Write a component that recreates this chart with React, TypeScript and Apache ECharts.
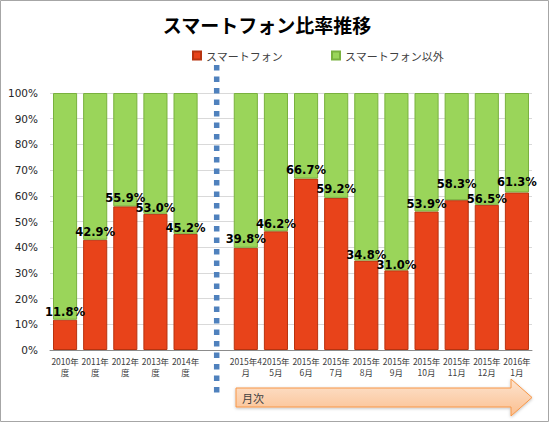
import React, { useEffect, useRef } from "react";
import * as echarts from "echarts";

const categories = [
  "2010年\n度", "2011年\n度", "2012年\n度", "2013年\n度", "2014年\n度", "",
  "2015年4\n月", "2015年\n5月", "2015年\n6月", "2015年\n7月", "2015年\n8月",
  "2015年\n9月", "2015年\n10月", "2015年\n11月", "2015年\n12月", "2016年\n1月",
];
const smartphoneShare: (number | string)[] = [
  11.8, 42.9, 55.9, 53.0, 45.2, "-",
  39.8, 46.2, 66.7, 59.2, 34.8, 31.0, 53.9, 58.3, 56.5, 61.3,
];
const otherShare: (number | string)[] = smartphoneShare.map((v) =>
  typeof v === "number" ? +(100 - v).toFixed(1) : "-"
);
const yTicks = [0, 10, 20, 30, 40, 50, 60, 70, 80, 90, 100];
const gapIndex = 5;
// extra upward nudge (px) of individual data labels, as placed in the original
const labelRaise = [0, 0, 1, -2, -2, 0, 1, 0, 1, 1, -2, -2, 0, 8, -2, 3];

const JP = '"Noto Sans CJK JP", "DejaVu Sans", sans-serif';
const NUM = '"DejaVu Sans", "Noto Sans CJK JP", sans-serif';

export default function App() {
  const ref = useRef<HTMLDivElement>(null);
  useEffect(() => {
    if (!ref.current) return;
    const chart = echarts.init(ref.current, null, { renderer: "svg" });
    chart.setOption({
      animation: false,
      backgroundColor: "#ffffff",
      title: {
        text: "スマートフォン比率推移",
        left: 262,
        textAlign: "center",
        top: 10,
        textStyle: { fontFamily: JP, fontSize: 19, fontWeight: "bold", color: "#000" },
      },
      legend: {
        top: 45,
        left: 187,
        itemWidth: 8,
        itemHeight: 8,
        itemGap: 48,
        icon: "rect",
        textStyle: { fontFamily: JP, fontSize: 11, color: "#404040" },
        data: ["スマートフォン", "スマートフォン以外"],
      },
      grid: { left: 50, right: 18, top: 93, bottom: 74, containLabel: false },
      xAxis: {
        type: "category",
        data: categories,
        axisLine: { lineStyle: { color: "#8c8c8c" } },
        axisTick: { show: false },
        axisLabel: {
          interval: 0,
          fontFamily: JP,
          fontSize: 8.5,
          lineHeight: 11,
          color: "#404040",
          margin: 5,
        },
      },
      yAxis: {
        type: "value",
        min: 0,
        max: 100,
        interval: 10,
        axisLine: { show: false },
        axisTick: { show: false },
        splitLine: { lineStyle: { color: "#d9d9d9" } },
        axisLabel: {
          formatter: (v: number) => (yTicks.includes(v) ? v + "%" : ""),
          fontFamily: NUM,
          fontSize: 10.5,
          color: "#262626",
          margin: 12,
        },
      },
      series: [
        {
          name: "スマートフォン",
          type: "bar",
          stack: "total",
          data: smartphoneShare.map((v, i) => ({
            value: v,
            label: { offset: [0, -labelRaise[i]] },
          })),
          barCategoryGap: "20%",
          itemStyle: { color: "#e8431a", borderColor: "#b8330f", borderWidth: 1 },
          label: {
            show: true,
            position: "top",
            distance: 2,
            formatter: (p: any) => Number(p.value).toFixed(1) + "%",
            fontFamily: NUM,
            fontSize: 11.5,
            fontWeight: "bold",
            color: "#000",
          },
        },
        {
          name: "スマートフォン以外",
          type: "bar",
          stack: "total",
          data: otherShare,
          barCategoryGap: "20%",
          itemStyle: { color: "#9ad55a", borderColor: "#79b13e", borderWidth: 1 },
        },
      ],
    });
    const gx = chart.convertToPixel({ xAxisIndex: 0 }, gapIndex) as number;
    chart.setOption({
      graphic: [
        {
          type: "rect",
          shape: { x: 0.5, y: 0.5, width: 548, height: 421 },
          style: { fill: "none", stroke: "#a6a6a6", lineWidth: 1 },
          silent: true,
        },
        {
          type: "line",
          shape: { x1: gx + 1, y1: 65, x2: gx + 1, y2: 393 },
          style: { stroke: "#4f81bd", lineWidth: 5.5, lineDash: [5.5, 6] },
          silent: true,
        },
        {
          type: "polygon",
          shape: {
            points: [
              [236, 388], [511, 388], [511, 379], [532, 397.5],
              [511, 416], [511, 407], [236, 407],
            ],
          },
          style: {
            fill: new echarts.graphic.LinearGradient(0, 0, 0, 1, [
              { offset: 0, color: "#fde4d0" },
              { offset: 1, color: "#fbbf8f" },
            ]),
            stroke: "#f79646",
            lineWidth: 1,
            shadowBlur: 3,
            shadowColor: "rgba(0,0,0,0.25)",
            shadowOffsetY: 1,
          },
          silent: true,
        },
        {
          type: "text",
          x: 242,
          y: 397.5,
          style: {
            text: "月次",
            fontFamily: JP,
            fontSize: 11,
            fill: "#404040",
            verticalAlign: "middle",
          },
          silent: true,
        },
      ],
    });
    return () => chart.dispose();
  }, []);
  return (
    <div
      ref={ref}
      style={{ position: "fixed", left: 0, top: 0, width: 550, height: 424 }}
    />
  );
}
